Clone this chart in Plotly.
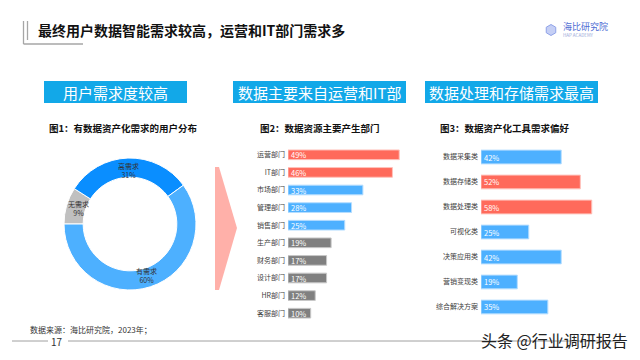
import math
import plotly.graph_objects as go

W, H = 640, 360
def fx(x): return x / W
def fy(y): return 1 - y / H

FONT = "Noto Sans CJK SC"

# ---------------- data ----------------
pie_labels = ["无需求", "高需求", "有需求"]
pie_values = [9, 31, 60]

dept_names = ["运营部门", "IT部门", "市场部门", "管理部门", "销售部门",
              "生产部门", "财务部门", "设计部门", "HR部门", "客服部门"]
dept_values = [49, 46, 33, 28, 25, 19, 17, 17, 12, 10]

tool_names = ["数据采集类", "数据存储类", "数据处理类", "可视化类",
              "决策应用类", "营销变现类", "综合解决方案"]
tool_values = [42, 52, 58, 25, 42, 19, 35]

title_text = "最终用户数据智能需求较高，运营和IT部门需求多"
banner_texts = ["用户需求度较高", "数据主要来自运营和IT部", "数据处理和存储需求最高"]
sub_texts = ["图1：有数据资产化需求的用户分布", "图2：数据资源主要产生部门", "图3：数据资产化工具需求偏好"]
source_text = "数据来源：海比研究院，2023年；"
page_no = "17"
watermark = "头条 @行业调研报告"

# ---------------- styles ----------------
RED, BLUE, GRAY = "#FF6A5B", "#4DB0FF", "#808080"
RED_L, BLUE_L, GRAY_L = "#FFC2BB", "#B5DDFF", "#C8C8C8"
pie_colors = ["#C0C0C0", "#0A8EFF", "#4DB0FF"]
dept_colors = [RED, RED, BLUE, BLUE, BLUE, GRAY, GRAY, GRAY, GRAY, GRAY]
dept_lines = [RED_L, RED_L, BLUE_L, BLUE_L, BLUE_L, GRAY_L, GRAY_L, GRAY_L, GRAY_L, GRAY_L]
tool_colors = [BLUE, RED, RED, BLUE, BLUE, BLUE, BLUE]
tool_lines = [BLUE_L, RED_L, RED_L, BLUE_L, BLUE_L, BLUE_L, BLUE_L]

PIE_CX, PIE_CY, PIE_R = 130, 224, 66
PIE_ROT = -90  # first slice starts at 9 o'clock, clockwise

fig = go.Figure()

fig.add_trace(go.Pie(
    labels=pie_labels, values=pie_values, sort=False, direction="clockwise",
    rotation=PIE_ROT, hole=0.71,
    marker=dict(colors=pie_colors, line=dict(color="white", width=1)),
    textinfo="none",
    domain=dict(x=[fx(PIE_CX - PIE_R), fx(PIE_CX + PIE_R)],
                y=[fy(PIE_CY + PIE_R), fy(PIE_CY - PIE_R)]),
    hoverinfo="skip", showlegend=False,
))

fig.add_trace(go.Bar(
    x=dept_values, y=dept_names, orientation="h", xaxis="x", yaxis="y",
    marker=dict(color=dept_colors, line=dict(color=dept_lines, width=1)),
    texttemplate="%{x}%", textposition="inside", insidetextanchor="start",
    constraintext="none",
    textfont=dict(family=FONT, size=7.5, color="white"),
    hoverinfo="skip", showlegend=False,
))

fig.add_trace(go.Bar(
    x=tool_values, y=tool_names, orientation="h", xaxis="x2", yaxis="y2",
    marker=dict(color=tool_colors, line=dict(color=tool_lines, width=1)),
    texttemplate="%{x}%", textposition="inside", insidetextanchor="start",
    constraintext="none",
    textfont=dict(family=FONT, size=7.5, color="white"),
    hoverinfo="skip", showlegend=False,
))

axis_common = dict(showgrid=False, zeroline=False, showline=False, fixedrange=True)
ycommon = dict(axis_common, type="category", autorange="reversed", ticks="",
               tickfont=dict(family=FONT, size=7, color="#404040"),
               ticklabelstandoff=2)

shapes = []
# title decoration
for (x0, y0, x1, y1) in [(23.5, 21, 23.5, 44), (27.5, 21, 27.5, 40), (23.5, 44, 83, 44)]:
    shapes.append(dict(type="line", xref="paper", yref="paper",
                       x0=fx(x0), y0=fy(y0), x1=fx(x1), y1=fy(y1),
                       line=dict(color="#A6A6A6", width=1.3)))
# banners
banners = [(44, 187), (233, 406), (425, 598)]
for (bx0, bx1) in banners:
    shapes.append(dict(type="rect", xref="paper", yref="paper",
                       x0=fx(bx0), x1=fx(bx1), y0=fy(103), y1=fy(81),
                       fillcolor="#12A8E8", line=dict(width=0), layer="below"))
# arrow
pts = [(215, 167), (219, 167), (237, 228), (219, 290), (215, 290)]
path = "M " + " L ".join(f"{fx(a):.5f},{fy(b):.5f}" for a, b in pts) + " Z"
shapes.append(dict(type="path", xref="paper", yref="paper", path=path,
                   fillcolor="#FFB0A9", line=dict(width=0), layer="below"))
# logo icon (hexagon)
cx, cy, r = 551, 30, 5.5
hex_pts = [(cx + r * math.sin(math.radians(a)), cy - r * math.cos(math.radians(a))) for a in range(0, 360, 60)]
hpath = "M " + " L ".join(f"{fx(a):.5f},{fy(b):.5f}" for a, b in hex_pts) + " Z"
shapes.append(dict(type="path", xref="paper", yref="paper", path=hpath,
                   fillcolor="#C5CFF5", line=dict(color="#8FA2E8", width=1)))
# footer lines
for (x0, x1) in [(12, 48), (68, 620)]:
    shapes.append(dict(type="line", xref="paper", yref="paper",
                       x0=fx(x0), x1=fx(x1), y0=fy(341), y1=fy(341),
                       line=dict(color="#A0A0A0", width=1)))

ann = []
def text(x, y, s, size, color="#222222", xanchor="left", bold=False):
    ann.append(dict(xref="paper", yref="paper", x=fx(x), y=fy(y), text=(f"<b>{s}</b>" if bold else s),
                    showarrow=False, xanchor=xanchor, yanchor="middle",
                    font=dict(family=FONT, size=size, color=color)))

# pie slice labels, placed at each slice's mid angle (derived from the values)
total = sum(pie_values)
start = PIE_ROT
label_r = 54
for lab, val in zip(pie_labels, pie_values):
    span = 360 * val / total
    mid = math.radians(start + span / 2)
    lx = PIE_CX + label_r * math.sin(mid)
    ly = PIE_CY - label_r * math.cos(mid)
    text(lx, ly, f"{lab}<br>{val}%", 7, "#333333", xanchor="center")
    start += span

text(36, 30, title_text, 14, "#111111", bold=True)
for (bx0, bx1), t in zip(banners, banner_texts):
    text((bx0 + bx1) / 2, 92, t, 15, "white", xanchor="center")
for cxp, t in zip([123, 320, 505], sub_texts):
    text(cxp, 128, t, 9.5, "#111111", xanchor="center", bold=True)
text(28, 329, source_text, 8, "#333333")
text(57, 341, page_no, 10, "#333333", xanchor="center")
text(630, 340, watermark, 16, "#222222", xanchor="right")
text(561, 27, "海比研究院", 9, "#4E6BD3")
text(561, 35.5, "HAP ACADEMY", 4.5, "#9AA8D8")

fig.update_layout(
    width=W, height=H, autosize=False,
    margin=dict(l=0, r=0, t=0, b=0),
    paper_bgcolor="white", plot_bgcolor="rgba(0,0,0,0)",
    font=dict(family=FONT),
    bargap=0.45,
    xaxis=dict(axis_common, domain=[fx(288), fx(410)], range=[0, 122 / 2.27], showticklabels=False),
    yaxis=dict(ycommon, domain=[fy(322), fy(146)], anchor="x"),
    xaxis2=dict(axis_common, domain=[fx(481), fx(612)], range=[0, 131 / 1.91], showticklabels=False, anchor="y2"),
    yaxis2=dict(ycommon, domain=[fy(319.5), fy(144.5)], anchor="x2"),
    shapes=shapes, annotations=ann,
)

fig.write_html("out.html", config=dict(displayModeBar=False),
               post_script="document.body.style.margin='0';document.body.style.overflow='hidden';")
